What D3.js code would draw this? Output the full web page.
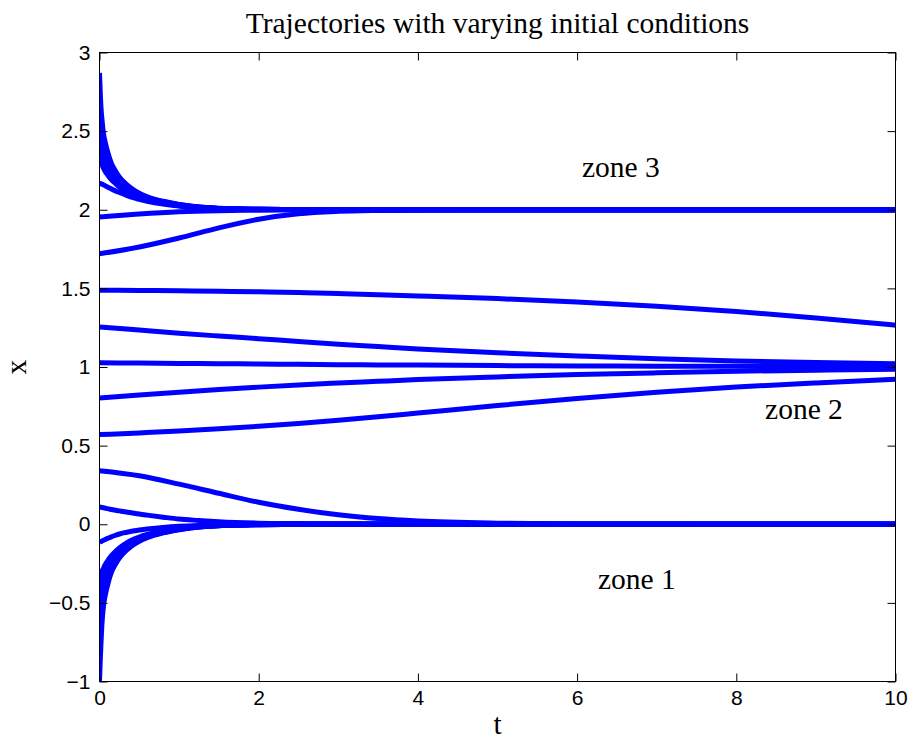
<!DOCTYPE html>
<meta charset="utf-8">
<style>
body { margin: 0; background: #fff; }
.tick text { font-family: "Liberation Sans", Arial, sans-serif; font-size: 21px; fill: #000; }
.tick line { stroke: #000; }
.traj { fill: none; stroke: #0000ff; stroke-width: 5; }
.box { fill: none; stroke: #000; stroke-width: 1; }
.lbl { font-family: "Liberation Serif", "Times New Roman", serif; font-size: 29.5px; fill: #000; }
</style>
<body>
<script src="https://cdn.jsdelivr.net/npm/d3@7"></script>
<script>

var width = 912;
var height = 742;
var plot = {left: 99.5, top: 52.5, right: 895.5, bottom: 681.5};

// tick values
var xTicks = [0, 2, 4, 6, 8, 10];
var yTicks = [-1, -0.5, 0, 0.5, 1, 1.5, 2, 2.5, 3];

// time grids (fine near t = 0, coarse later)
var tFast = [0, 0.01, 0.02, 0.03, 0.05, 0.075, 0.1, 0.15, 0.2, 0.25, 0.3, 0.4, 0.5, 0.6, 0.8, 1, 1.25, 1.5, 2, 2.5, 3, 4, 10];
var tSlow = [0, 0.5, 1, 1.5, 2, 2.5, 3, 3.5, 4, 5, 6, 7, 8, 9, 10];

// lower bundle, x(0) between -1 and -0.35 (on tFast)
var low1 = [-1, -0.86, -0.74, -0.64, -0.52, -0.445, -0.39, -0.305, -0.255, -0.215, -0.185, -0.14, -0.108, -0.085, -0.055, -0.035, -0.018, -0.009, -0.003, -0.001, 0, 0, 0];
var low2 = [-0.69, -0.61, -0.55, -0.5, -0.445, -0.39, -0.345, -0.28, -0.235, -0.2, -0.173, -0.132, -0.102, -0.081, -0.052, -0.033, -0.017, -0.009, -0.003, -0.001, 0, 0, 0];
var low3 = [-0.52, -0.485, -0.458, -0.434, -0.39, -0.345, -0.305, -0.255, -0.215, -0.185, -0.162, -0.124, -0.096, -0.077, -0.05, -0.031, -0.016, -0.008, -0.003, -0.001, 0, 0, 0];
var low4 = [-0.445, -0.423, -0.401, -0.381, -0.345, -0.305, -0.28, -0.235, -0.2, -0.173, -0.151, -0.116, -0.091, -0.073, -0.047, -0.03, -0.015, -0.008, -0.002, -0.001, 0, 0, 0];
var low5 = [-0.39, -0.372, -0.354, -0.337, -0.305, -0.28, -0.255, -0.215, -0.185, -0.162, -0.14, -0.108, -0.085, -0.069, -0.045, -0.028, -0.014, -0.007, -0.002, -0.001, 0, 0, 0];
var low6 = [-0.345, -0.329, -0.313, -0.3, -0.28, -0.255, -0.235, -0.2, -0.173, -0.151, -0.132, -0.102, -0.081, -0.065, -0.042, -0.026, -0.013, -0.007, -0.002, -0.001, 0, 0, 0];

// upper bundle, x(0) between 2.3 and 2.87 (on tFast)
var up1 = [2.87, 2.74, 2.64, 2.58, 2.485, 2.423, 2.372, 2.295, 2.247, 2.209, 2.18, 2.137, 2.106, 2.083, 2.054, 2.034, 2.018, 2.009, 2.003, 2.001, 2, 2, 2];
var up2 = [2.61, 2.55, 2.5, 2.472, 2.423, 2.372, 2.329, 2.27, 2.227, 2.196, 2.169, 2.129, 2.1, 2.079, 2.051, 2.033, 2.017, 2.008, 2.003, 2.001, 2, 2, 2];
var up3 = [2.485, 2.458, 2.434, 2.412, 2.372, 2.329, 2.295, 2.247, 2.209, 2.18, 2.158, 2.121, 2.094, 2.075, 2.049, 2.031, 2.016, 2.008, 2.003, 2.001, 2, 2, 2];
var up4 = [2.423, 2.401, 2.381, 2.363, 2.329, 2.295, 2.27, 2.227, 2.196, 2.169, 2.147, 2.113, 2.088, 2.071, 2.046, 2.029, 2.015, 2.007, 2.002, 2.001, 2, 2, 2];
var up5 = [2.372, 2.354, 2.337, 2.321, 2.295, 2.27, 2.247, 2.209, 2.18, 2.158, 2.137, 2.106, 2.083, 2.068, 2.044, 2.027, 2.014, 2.007, 2.002, 2.001, 2, 2, 2];
var up6 = [2.321, 2.305, 2.295, 2.285, 2.265, 2.241, 2.223, 2.191, 2.167, 2.144, 2.127, 2.098, 2.079, 2.063, 2.041, 2.025, 2.013, 2.006, 2.002, 2.001, 2, 2, 2];

// single fast curves (on tFast)
var x217 = [2.17, 2.168, 2.165, 2.163, 2.158, 2.151, 2.145, 2.132, 2.12, 2.11, 2.1, 2.08, 2.066, 2.054, 2.036, 2.024, 2.014, 2.008, 2.003, 2.001, 2, 2, 2];
var x011 = [0.11, 0.109, 0.108, 0.107, 0.105, 0.102, 0.099, 0.094, 0.089, 0.085, 0.081, 0.073, 0.065, 0.058, 0.045, 0.033, 0.024, 0.016, 0.007, 0.004, 0.002, 0.001, 0];
var xm012 = [-0.115, -0.112, -0.11, -0.107, -0.102, -0.096, -0.09, -0.08, -0.07, -0.062, -0.055, -0.045, -0.036, -0.03, -0.02, -0.013, -0.008, -0.005, -0.002, -0.001, 0, 0, 0];

// slow curves (on tSlow)
var x195 = [1.954, 1.973, 1.987, 1.994, 1.997, 1.999, 2, 2, 2, 2, 2, 2, 2, 2, 2];
var x172 = [1.72, 1.763, 1.82, 1.885, 1.94, 1.975, 1.99, 1.996, 1.999, 2, 2, 2, 2, 2, 2];
var x149 = [1.488, 1.487, 1.485, 1.482, 1.478, 1.473, 1.467, 1.46, 1.452, 1.435, 1.413, 1.386, 1.353, 1.312, 1.266];
var x126 = [1.255, 1.235, 1.215, 1.197, 1.18, 1.162, 1.145, 1.13, 1.115, 1.09, 1.07, 1.052, 1.038, 1.028, 1.02];
var x103 = [1.027, 1.025, 1.023, 1.021, 1.019, 1.017, 1.015, 1.013, 1.012, 1.009, 1.007, 1.005, 1.004, 1.003, 1.002];
var x080 = [0.803, 0.822, 0.84, 0.857, 0.872, 0.886, 0.898, 0.909, 0.92, 0.937, 0.952, 0.963, 0.973, 0.98, 0.985];
var x057 = [0.57, 0.581, 0.593, 0.607, 0.623, 0.641, 0.661, 0.683, 0.707, 0.755, 0.8, 0.84, 0.873, 0.899, 0.922];
var x034 = [0.34, 0.308, 0.255, 0.197, 0.14, 0.095, 0.06, 0.036, 0.021, 0.007, 0.002, 0.001, 0, 0, 0];

var fastCurves = [low1, low2, low3, low4, low5, low6, up1, up2, up3, up4, up5, up6, x217, x011, xm012];
var slowCurves = [x195, x172, x149, x126, x103, x080, x057, x034];

var series = [];
fastCurves.forEach(function(v) {
  series.push(v.map(function(d, i) { return [tFast[i], d]; }));
});
slowCurves.forEach(function(v) {
  series.push(v.map(function(d, i) { return [tSlow[i], d]; }));
});

var svg = d3.select("body")
            .append("svg")
            .attr("width", width)
            .attr("height", height);

var x = d3.scaleLinear().domain([0, 10]).range([plot.left, plot.right]);
var y = d3.scaleLinear().domain([-1, 3]).range([plot.bottom, plot.top]);

svg.append("clipPath").attr("id", "clip")
   .append("rect")
   .attr("x", plot.left).attr("y", plot.top)
   .attr("width", plot.right - plot.left)
   .attr("height", plot.bottom - plot.top);

var line = d3.line()
             .x(function(d) { return x(d[0]); })
             .y(function(d) { return y(d[1]); })
             .curve(d3.curveMonotoneX);

svg.append("g").attr("clip-path", "url(#clip)")
   .selectAll("path")
   .data(series)
   .enter()
   .append("path")
   .attr("class", "traj")
   .attr("d", line);

// axes, ticks point inward on all four sides
var tl = 8;
var fmt = d3.format("");
svg.append("g").attr("transform", "translate(0," + plot.bottom + ")")
   .call(d3.axisBottom(x).tickValues(xTicks).tickFormat(fmt).tickSizeInner(-tl).tickSizeOuter(0).tickPadding(9));
svg.append("g").attr("transform", "translate(0," + plot.top + ")")
   .call(d3.axisTop(x).tickValues(xTicks).tickSizeInner(-tl).tickSizeOuter(0).tickFormat(""));
svg.append("g").attr("transform", "translate(" + plot.left + ",0)")
   .call(d3.axisLeft(y).tickValues(yTicks).tickFormat(fmt).tickSizeInner(-tl).tickSizeOuter(0).tickPadding(9));
svg.append("g").attr("transform", "translate(" + plot.right + ",0)")
   .call(d3.axisRight(y).tickValues(yTicks).tickSizeInner(-tl).tickSizeOuter(0).tickFormat(""));
svg.selectAll(".domain").remove();

svg.append("rect").attr("class", "box")
   .attr("x", plot.left).attr("y", plot.top)
   .attr("width", plot.right - plot.left)
   .attr("height", plot.bottom - plot.top);

// title, axis labels, zone labels
svg.append("text").attr("class", "lbl").attr("text-anchor", "middle")
   .attr("x", (plot.left + plot.right) / 2).attr("y", 33)
   .text("Trajectories with varying initial conditions");
svg.append("text").attr("class", "lbl").attr("text-anchor", "middle")
   .attr("x", (plot.left + plot.right) / 2).attr("y", 734)
   .text("t");
svg.append("text").attr("class", "lbl").attr("text-anchor", "middle")
   .attr("transform", "translate(26," + (plot.top + plot.bottom) / 2 + ") rotate(-90)")
   .text("x");

var zones = [
  {label: "zone 3", t: 6.55, v: 2.27},
  {label: "zone 2", t: 8.85, v: 0.73},
  {label: "zone 1", t: 6.75, v: -0.35}
];
svg.selectAll(".zone")
   .data(zones)
   .enter()
   .append("text")
   .attr("class", "lbl zone")
   .attr("text-anchor", "middle")
   .attr("dominant-baseline", "central")
   .attr("x", function(d) { return x(d.t); })
   .attr("y", function(d) { return y(d.v); })
   .text(function(d) { return d.label; });

</script>
